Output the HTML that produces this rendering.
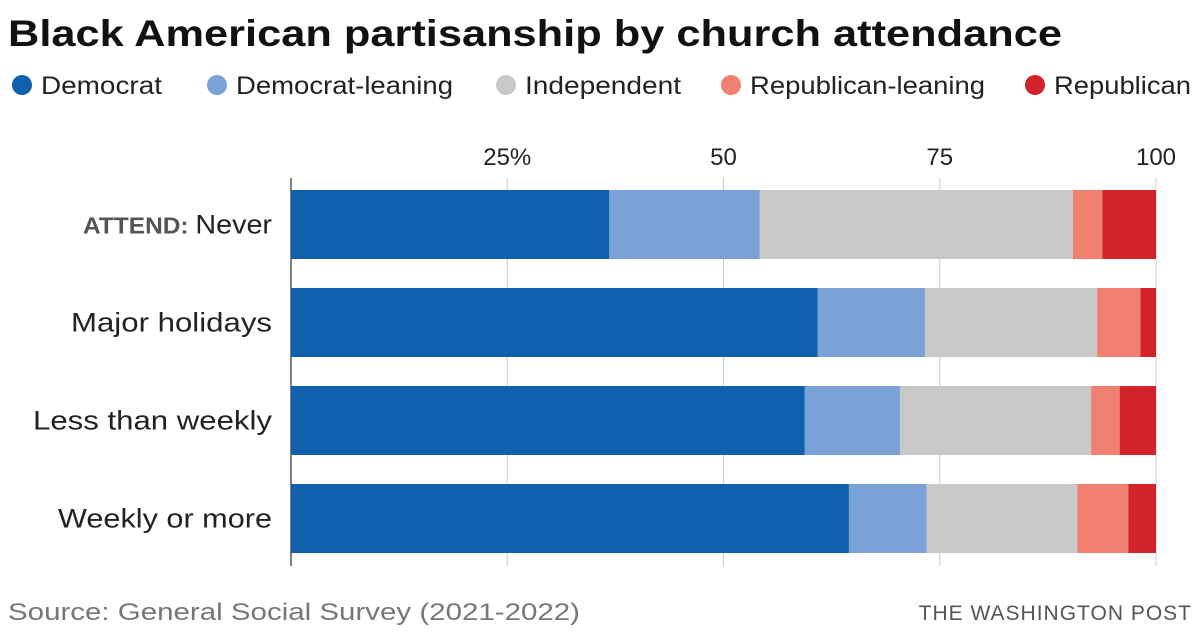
<!DOCTYPE html>
<html><head><meta charset="utf-8">
<style>
body{margin:0;width:1200px;height:638px;background:#fff;overflow:hidden;font-family:"Liberation Sans",sans-serif;}
svg{display:block}
</style></head>
<body>
<svg id="c" width="1200" height="638" xmlns="http://www.w3.org/2000/svg">
<text x="8" y="46" font-size="37" font-weight="bold" fill="#111" textLength="1054" lengthAdjust="spacingAndGlyphs">Black American partisanship by church attendance</text>
<g id="legend"></g>
<g id="grid"></g>
<g id="bars"></g>
<g id="labels"></g>
<text x="8" y="620" font-size="24" fill="#777" textLength="572" lengthAdjust="spacingAndGlyphs">Source: General Social Survey (2021-2022)</text>
<text x="1192" y="620" font-size="21" fill="#555" text-anchor="end" letter-spacing="1">THE WASHINGTON POST</text>
</svg>
<script>
const categories=["Never","Major holidays","Less than weekly","Weekly or more"];
const seriesNames=["Democrat","Democrat-leaning","Independent","Republican-leaning","Republican"];
const democrat=[36.8,60.9,59.4,64.5];
const demLean=[17.4,12.4,11.0,9.0];
const independent=[36.2,19.9,22.1,17.4];
const repLean=[3.4,5.0,3.3,5.9];
const republican=[6.2,1.8,4.2,3.2];
const tickValues=[25,50,75,100];
const tickLabels=["25%","50","75","100"];
const colors=["#1160ad","#7ba2d6","#c8c8c8","#f08070","#d2232a"];
const series=[democrat,demLean,independent,repLean,republican];
const NS="http://www.w3.org/2000/svg";
const x0=291,x1=1156;
const xs=v=>x0+(x1-x0)*v/100;
const bandTop=190,bandStep=98,barH=69;
const ys=i=>bandTop+i*bandStep;
function mk(tag,attrs,parent){const e=document.createElementNS(NS,tag);for(const k in attrs)e.setAttribute(k,attrs[k]);parent.appendChild(e);return e;}
const grid=document.getElementById('grid');
tickValues.forEach((t,i)=>{
  const l=mk('line',{x1:xs(t),x2:xs(t),y1:178,y2:566,stroke:'#ccc','stroke-width':1},grid);
  
  
  const tx=mk('text',{x:xs(t),y:165,'font-size':24,fill:'#222','text-anchor':'middle'},grid);
  tx.textContent=tickLabels[i];
  
  
});
const ax=mk('line',{x1:x0,x2:x0,y1:178,y2:566,stroke:'#555','stroke-width':1.5},grid);


const bars=document.getElementById('bars');
categories.forEach((c,i)=>{
  let cum=0;
  series.forEach((s,j)=>{
    const r=mk('rect',{x:xs(cum),y:ys(i),width:xs(cum+s[i])-xs(cum),height:barH,fill:colors[j]},bars);
    
    
    cum+=s[i];
  });
});
const labelLens=[189,201,239,214];
const labels=document.getElementById('labels');
categories.forEach((c,i)=>{
  const t=mk('text',{x:272-labelLens[i],y:ys(i)+barH/2+9,'font-size':27,fill:'#222',textLength:labelLens[i],lengthAdjust:'spacingAndGlyphs'},labels);
  if(i===0){const p=mk('tspan',{'font-weight':'bold','font-size':23,fill:'#555'},t);p.textContent='ATTEND: ';const q=mk('tspan',{},t);q.textContent=c;}
  else t.textContent=c;
  
  
});
const legend=document.getElementById('legend');
const lx=[22,217,506,731,1035];
const lLen=[121,217,156,235,137];
seriesNames.forEach((n,j)=>{
  const g=mk('g',{},legend);
  
  
  mk('circle',{cx:lx[j],cy:85,r:10,fill:colors[j]},g);
  const t=mk('text',{x:lx[j]+19,y:94,'font-size':25,fill:'#222',textLength:lLen[j],lengthAdjust:'spacingAndGlyphs'},g);
  t.textContent=n;
});
</script>
</body></html>
